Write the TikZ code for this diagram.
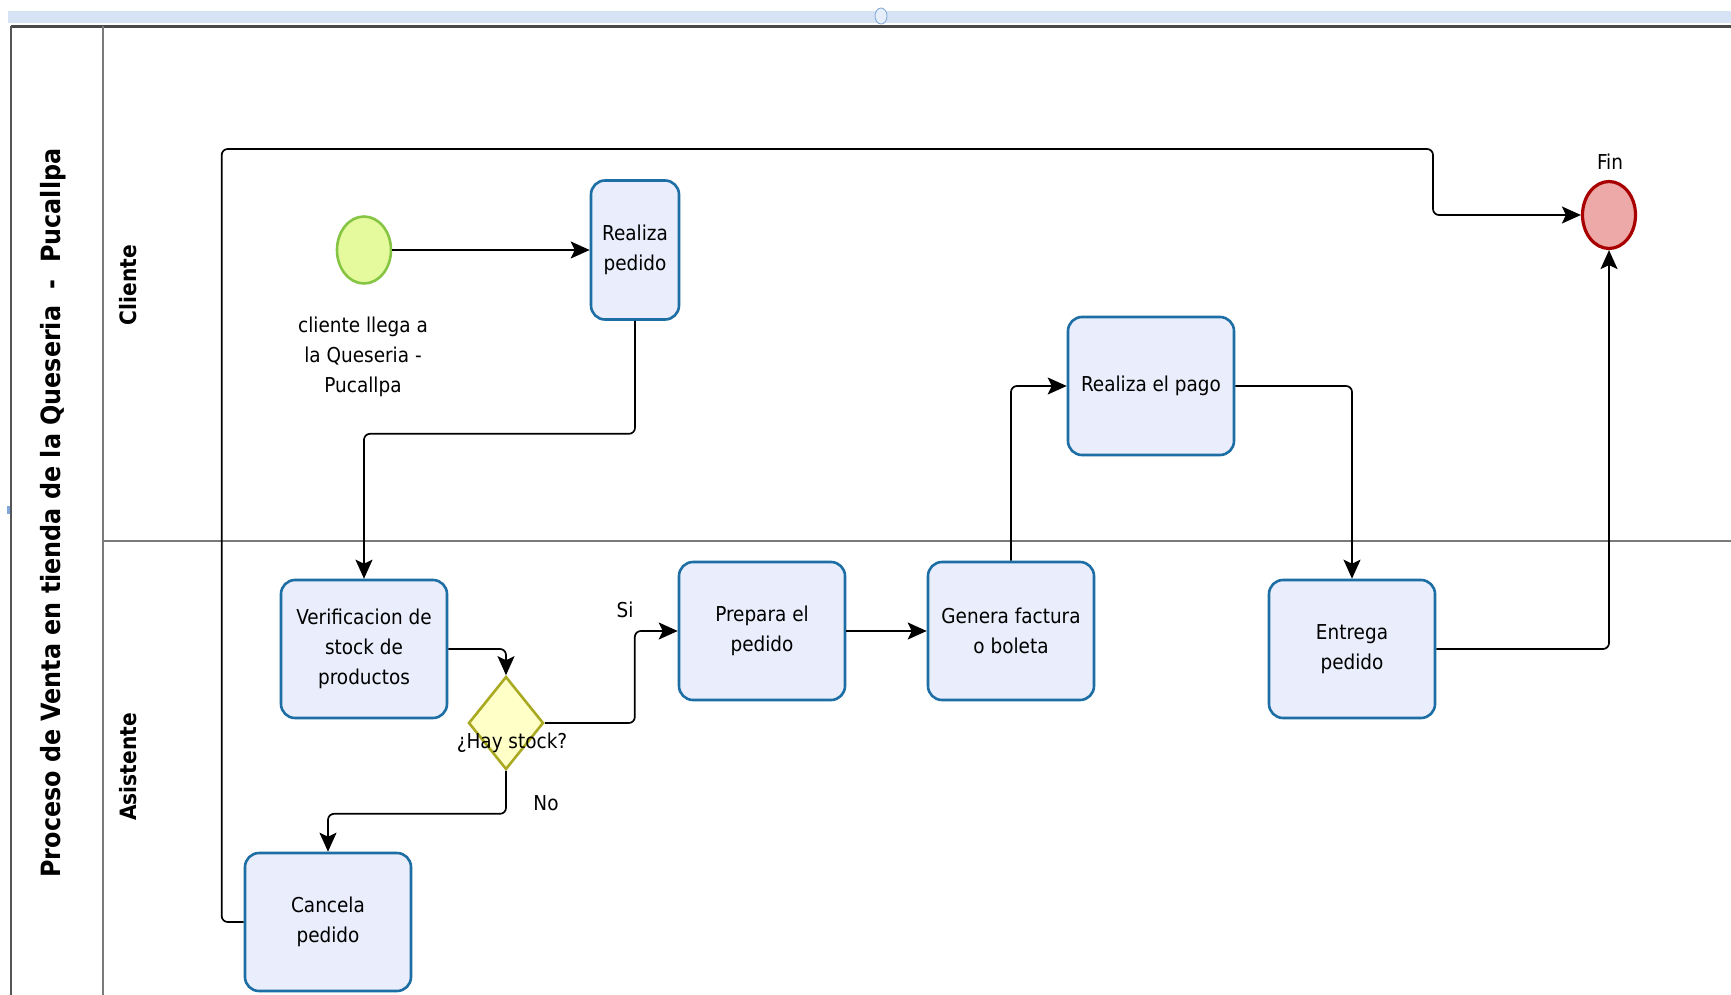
\documentclass[tikz,border=0pt]{standalone}
\usepackage{fontspec}
\setmainfont{DejaVu Sans Condensed}
\usetikzlibrary{shapes.geometric,arrows.meta}

\definecolor{taskfill}{HTML}{EAEEFC}
\definecolor{taskline}{HTML}{1C6EA4}
\definecolor{startfill}{HTML}{E4FA9C}
\definecolor{startline}{HTML}{86C443}
\definecolor{endfill}{HTML}{EDA8A8}
\definecolor{endline}{HTML}{A80000}
\definecolor{gwfill}{HTML}{FFFFC8}
\definecolor{gwline}{HTML}{AAAA22}
\definecolor{lane}{HTML}{7A7A7A}
\definecolor{barblue}{HTML}{D5E3F5}
\definecolor{barline}{HTML}{7FA7D9}

\tikzset{
  task/.style={draw=taskline, fill=taskfill, line width=2.6pt, rounded corners=14pt,
    minimum width=166pt, minimum height=138pt, align=center, inner sep=2pt,
    font=\fontsize{20.5}{30}\selectfont},
  gateway/.style={draw=gwline, fill=gwfill, line width=2.6pt, diamond,
    minimum width=75pt, minimum height=93pt, inner sep=0pt},
  startev/.style={draw=startline, fill=startfill, line width=2.6pt, ellipse,
    minimum width=54pt, minimum height=67pt, inner sep=0pt},
  endev/.style={draw=endline, fill=endfill, line width=3.2pt, ellipse,
    minimum width=53pt, minimum height=67pt, inner sep=0pt},
  flow/.style={draw=black, line width=1.7pt, rounded corners=6pt,
    -{Stealth[length=19pt,width=17pt,inset=4pt]}},
  lbl/.style={font=\fontsize{20.5}{30}\selectfont, align=center, inner sep=0pt},
  lanetitle/.style={font=\bfseries\fontsize{22.5}{26}\selectfont, rotate=90, inner sep=0pt},
}

\begin{document}
\begin{tikzpicture}[x=1pt,y=-1pt]
\useasboundingbox (0,0) rectangle (1731,995);
\fill[white] (0,0) rectangle (1731,995);

% ruler band along the top
\fill[barblue] (8,11) rectangle (1731,23);
\draw[barline, line width=0.8pt, fill=barblue!60] (881,16) ellipse (6pt and 8pt);
\fill[barline] (7,506) rectangle (10,514);

% pool frame and lanes
\draw[lane!60!black, line width=2.2pt] (11,26.5) -- (1731,26.5);
\draw[lane!70!black, line width=1.6pt] (11,26) -- (11,995);
\draw[lane, line width=1.4pt] (103,26) -- (103,995);
\draw[lane, line width=1.4pt] (103,541) -- (1731,541);

\node[lanetitle, font=\bfseries\fontsize{26.5}{30}\selectfont] (pooltitle) at (53,513)
  {Proceso de Venta en tienda de la Queseria \ - \ Pucallpa};
\node[lanetitle] (lanecliente) at (128,285) {Cliente};
\node[lanetitle] (laneasistente) at (128,767) {Asistente};

% events, tasks and gateway
\node[startev] (start) at (364,250) {};
\node[lbl] (startlbl) at (363,357) {cliente llega a\\la Queseria -\\Pucallpa};
\node[task, minimum width=88pt, minimum height=139pt] (realiza) at (635,250) {Realiza\\pedido};
\node[task] (pago) at (1151,386) {Realiza el pago};
\node[task] (verif) at (364,649) {Verificacion de\\stock de\\productos};
\node[gateway] (gw) at (506,723) {};
\node[lbl] (gwlbl) at (512,743) {¿Hay stock?};
\node[task] (prepara) at (762,631) {Prepara el\\pedido};
\node[task] (genera) at (1011,631) {Genera factura\\o boleta};
\node[task] (entrega) at (1352,649) {Entrega\\pedido};
\node[task] (cancela) at (328,922) {Cancela\\pedido};
\node[endev] (fin) at (1609,215) {};
\node[lbl] (finlbl) at (1610,162) {Fin};

% sequence flows
\draw[flow] (start) -- (realiza);
\draw[flow] (realiza.south) -- ++(0,113) -| (verif.north);
\draw[flow] (verif.east) -| (gw.north);
\draw[flow] (gw.east) -- ++(90,0) |- (prepara.west);
\node[lbl] (silbl) at (625,610) {Si};
\draw[flow] (gw.south) -- ++(0,43) -| (cancela.north);
\node[lbl] (nolbl) at (546,803) {No};
\draw[flow] (prepara) -- (genera);
\draw[flow] (genera.north) |- (pago.west);
\draw[flow] (pago.east) -| (entrega.north);
\draw[flow] (entrega.east) -| (fin.south);
\coordinate (looptop) at (1433,149);
\draw[flow] (cancela.west) -- ++(-22,0) |- (looptop) |- (fin.west);
\end{tikzpicture}
\end{document}
